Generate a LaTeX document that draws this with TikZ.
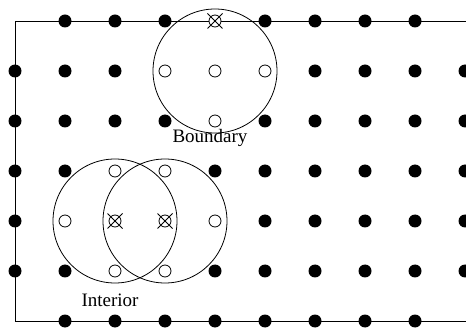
\documentclass[tikz,border=0pt]{standalone}
\usepackage{fontspec}
\setmainfont{Liberation Serif}
\foreach \k in {3-1,4-1,5-1,4-2,2-3,3-3,1-4,4-4,2-5,3-5,4-0,2-4,3-4,0-0,9-0,0-6,9-6}{\expandafter\gdef\csname sp\k\endcsname{}}
\tikzset{
  fdot/.style={circle,fill=black,minimum size=13pt,inner sep=0pt},
  odot/.style={circle,draw=black,fill=white,line width=0.8pt,minimum size=12pt,inner sep=0pt},
  xline/.style={line width=0.8pt},
  bigc/.style={circle,draw=black,line width=0.8pt,minimum size=124pt,inner sep=0pt},
  lbl/.style={font=\fontsize{19}{22}\selectfont,anchor=base,inner sep=0pt}
}
\begin{document}
\begin{tikzpicture}[x=1pt,y=1pt]
\useasboundingbox (0,0) rectangle (466,-331);
\coordinate (tr) at (466,-21);
\coordinate (tl) at (15,-21);
\coordinate (bl) at (15,-321);
\coordinate (br) at (466,-321);
\draw[line width=0.9pt] (tr) -- (tl) -- (bl) -- (br);
\node[bigc] (B) at (215,-71) {};
\node[bigc] (I1) at (115,-221) {};
\node[bigc] (I2) at (165,-221) {};
\foreach \j in {0,...,6}{
  \foreach \i in {0,...,9}{
    \ifcsname sp\i-\j\endcsname\else
      \node[fdot] (p\i-\j) at ({15+50*\i},{-21-50*\j}) {};
    \fi
  }
}
\foreach \i/\j in {3/1,4/1,5/1,4/2,2/3,3/3,1/4,4/4,2/5,3/5}{
  \node[odot] (p\i-\j) at ({15+50*\i},{-21-50*\j}) {};
}
\foreach \i/\j in {4/0,2/4,3/4}{
  \node[odot] (p\i-\j) at ({15+50*\i},{-21-50*\j}) {};
  \draw[xline] (p\i-\j.center) ++(-7.5,-7.5) -- ++(15,15);
  \draw[xline] (p\i-\j.center) ++(-7.5,7.5) -- ++(15,-15);
}
\node[lbl] (lb) at (210,-143) {Boundary};
\node[lbl] (li) at (110,-306) {Interior};
\end{tikzpicture}
\end{document}
